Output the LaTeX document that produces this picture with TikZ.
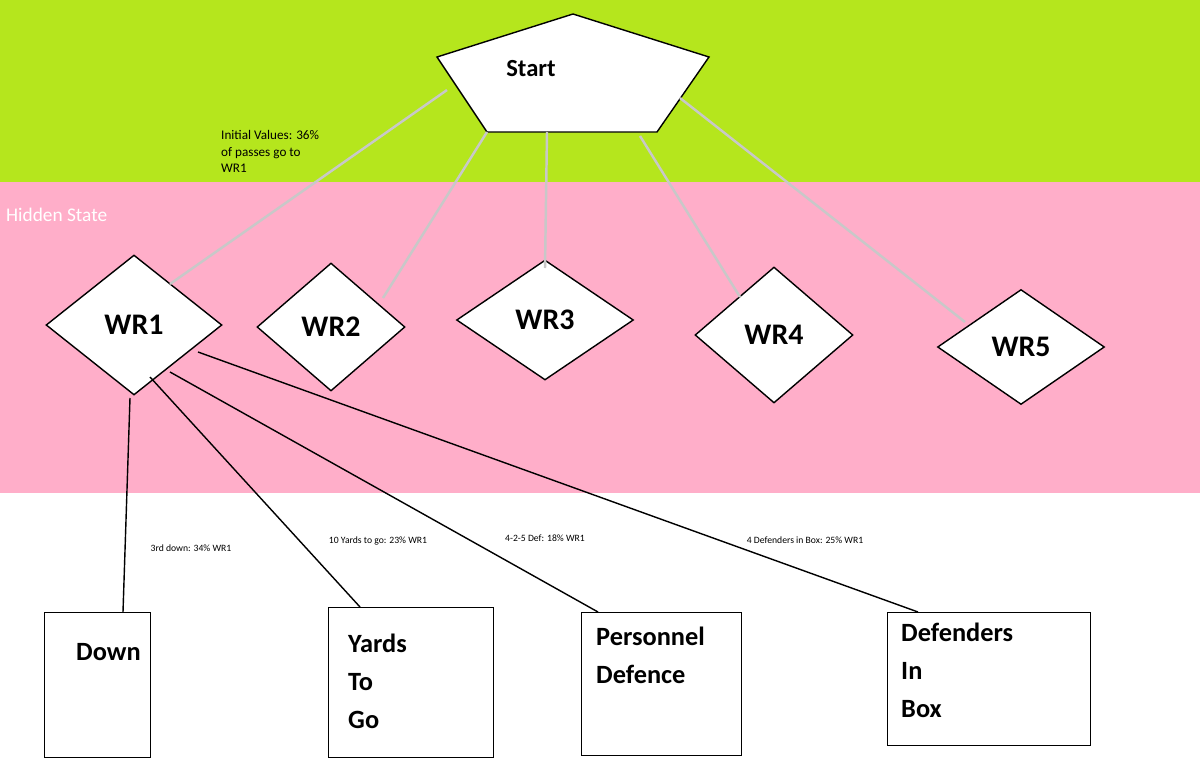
\documentclass[tikz,border=0pt]{standalone}
\usepackage{fontspec}
\setmainfont{Carlito}
\usetikzlibrary{shapes.geometric}
\definecolor{topgreen}{HTML}{B5E61D}
\definecolor{hidpink}{HTML}{FFAEC9}
\definecolor{edgegray}{HTML}{C8C8C8}
\tikzset{
  wr/.style={diamond,draw=black,fill=white,thick,inner sep=0pt,font=\fontsize{17}{20}\selectfont\bfseries},
  obs/.style={draw=black,fill=white,thick,anchor=north west,inner sep=0pt},
  obstext/.style={anchor=north west,align=left,font=\fontsize{15}{21.5}\selectfont\bfseries},
  prob/.style={font=\fontsize{5.5}{7}\selectfont},
  toplink/.style={edgegray,line width=1.4pt},
  emit/.style={black,thick}
}
\begin{document}
\begin{tikzpicture}[x=0.02cm,y=-0.02cm]
\useasboundingbox (0,0) rectangle (1200,781);

% Bands
\fill[topgreen] (0,0) rectangle (1200,182);
\fill[hidpink] (0,182) rectangle (1200,493);
\node[anchor=west,white,font=\fontsize{11}{13}\selectfont] (hid) at (0,215) {Hidden State};

% Start
\draw[thick,fill=white] (437,57) -- (573,14) -- (709,57) -- (657,132) -- (487,132) -- cycle;
\node[font=\fontsize{14}{16}\selectfont\bfseries] (start) at (531,69) {Start};
\coordinate (s1) at (447,90);
\coordinate (s2) at (487,132);
\coordinate (s3) at (547,132);
\coordinate (s4) at (640,136);
\coordinate (s5) at (680,98);

% Hidden states
\node[wr,minimum width=3.52cm,minimum height=2.8cm] (wr1) at (134,325) {WR1};
\node[wr,minimum width=2.96cm,minimum height=2.56cm] (wr2) at (331,327) {WR2};
\node[wr,minimum width=3.54cm,minimum height=2.4cm] (wr3) at (545,320) {WR3};
\node[wr,minimum width=3.16cm,minimum height=2.72cm] (wr4) at (774,335) {WR4};
\node[wr,minimum width=3.34cm,minimum height=2.3cm] (wr5) at (1021,347) {WR5};

\draw[toplink] (s1) -- (170,284);
\draw[toplink] (s2) -- (383,298);
\draw[toplink] (s3) -- (545,268);
\draw[toplink] (s4) -- (740,297);
\draw[toplink] (s5) -- (965,322);

\node[anchor=north west,align=left,font=\fontsize{7.5}{9.5}\selectfont] (init) at (215,124)
  {Initial Values: 36\%\\of passes go to\\WR1};

% Observations
\node[obs,minimum width=2.12cm,minimum height=2.9cm] (down) at (44,612) {};
\node[obs,minimum width=3.3cm,minimum height=3cm] (yards) at (328,607) {};
\node[obs,minimum width=3.2cm,minimum height=2.86cm] (pers) at (581,612) {};
\node[obs,minimum width=4.06cm,minimum height=2.66cm] (box) at (887,612) {};
\node[obstext] at (70,637) {Down};
\node[obstext] at (342,628) {Yards\\To\\Go};
\node[obstext] at (590,621) {Personnel\\Defence};
\node[obstext] at (895,617) {Defenders\\In\\Box};

\draw[emit] (130,398) -- (123,612);
\draw[emit] (150,377) -- (360,607);
\draw[emit] (170,372) -- (598,612);
\draw[emit] (198,352) -- (918,612);

\node[prob] at (191,548) {3rd down: 34\% WR1};
\node[prob] at (378,541) {10 Yards to go: 23\% WR1};
\node[prob] at (545,538) {4-2-5 Def: 18\% WR1};
\node[prob] at (805,540) {4 Defenders in Box: 25\% WR1};
\end{tikzpicture}
\end{document}
